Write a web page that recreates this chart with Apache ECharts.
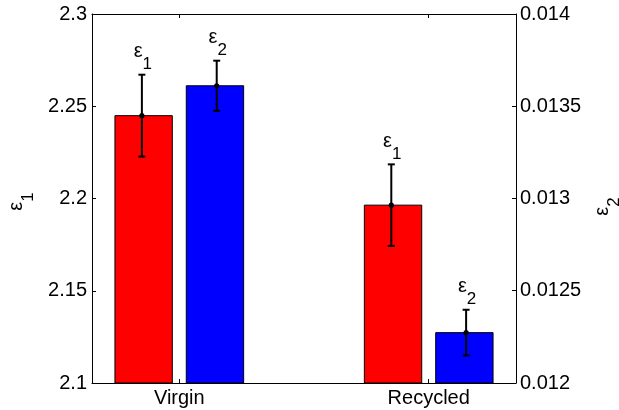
<!DOCTYPE html>
<html>
<head>
<meta charset="utf-8">
<script src="https://cdn.jsdelivr.net/npm/echarts@6/dist/echarts.min.js"></script>
<style>html,body{margin:0;padding:0;background:#fff}#c{width:619px;height:410px}</style>
</head>
<body>
<div id="c"></div>
<script>
// ---- data ----
const categories = ['Virgin', 'Recycled'];
const eps1 = [2.2449, 2.1964];
const eps1Err = [0.0222, 0.0221];
const eps2 = [0.013611, 0.012273];
const eps2Err = [0.000136, 0.000124];
const leftTicks = { min: 2.1, max: 2.3, interval: 0.05 };
const rightTicks = { min: 0.012, max: 0.014, interval: 0.0005 };
const xRange = { min: 0.65, max: 2.35 };
const xTickValues = [1, 2];

// ---- styles ----
const FONT = 'Liberation Sans, Arial, Helvetica, sans-serif';
const BAR_W = 0.23, BAR_OFF = 0.143, ERR_OFF = 0.15;
const RED = '#ff0000', BLUE = '#0000ff';

const richSub = {
  e: { fontSize: 20, fontFamily: FONT, color: '#000' },
  s: { fontSize: 17, fontFamily: FONT, color: '#000', padding: [25, 0, 0, 0] }
};

function barSeries(vals, yIdx, base, off, color) {
  return {
    type: 'custom', yAxisIndex: yIdx, clip: false,
    data: vals.map((v, i) => [i + 1, v]),
    renderItem: function (params, api) {
      const x = api.value(0) + off, y = api.value(1);
      const p0 = api.coord([x - BAR_W / 2, y]);
      const p1 = api.coord([x + BAR_W / 2, base]);
      return {
        type: 'rect',
        shape: { x: p0[0], y: p0[1], width: p1[0] - p0[0], height: p1[1] - p0[1] },
        style: { fill: color, stroke: '#000', lineWidth: 1 }
      };
    }
  };
}

function errSeries(vals, errs, yIdx, off, sub) {
  return {
    type: 'custom', yAxisIndex: yIdx, clip: false, z: 5,
    data: vals.map((v, i) => [i + 1, v, errs[i]]),
    renderItem: function (params, api) {
      const x = api.value(0) + off, y = api.value(1), e = api.value(2);
      const pt = api.coord([x, y + e]);
      const pb = api.coord([x, y - e]);
      const pm = api.coord([x, y]);
      const cw = 3.5;
      const ls = { stroke: '#000', lineWidth: 2 };
      return {
        type: 'group',
        children: [
          { type: 'line', shape: { x1: pt[0], y1: pt[1], x2: pb[0], y2: pb[1] }, style: ls },
          { type: 'line', shape: { x1: pt[0] - cw, y1: pt[1], x2: pt[0] + cw, y2: pt[1] }, style: ls },
          { type: 'line', shape: { x1: pb[0] - cw, y1: pb[1], x2: pb[0] + cw, y2: pb[1] }, style: ls },
          { type: 'circle', shape: { cx: pm[0], cy: pm[1], r: 2.6 }, style: { fill: '#000' } },
          {
            type: 'text', x: pt[0] + 1, y: pt[1] - 2,
            style: { text: '{e|ε}{s|' + sub + '}', rich: richSub, align: 'center', verticalAlign: 'bottom', fill: '#000' }
          }
        ]
      };
    }
  };
}

const axisCommon = {
  axisLine: { show: true, onZero: false, lineStyle: { color: '#000', width: 1 } },
  axisTick: { show: true, inside: true, length: 4, lineStyle: { color: '#000', width: 1 } },
  splitLine: { show: false }
};

const chart = echarts.init(document.getElementById('c'), null, { renderer: 'canvas' });
chart.setOption({
  animation: false,
  backgroundColor: '#fff',
  grid: { left: 92, right: 103, top: 14, bottom: 27, containLabel: false, outerBoundsMode: 'none' },
  xAxis: [
    Object.assign({}, axisCommon, {
      type: 'value', position: 'bottom', min: xRange.min, max: xRange.max,
      axisTick: Object.assign({}, axisCommon.axisTick, { customValues: xTickValues }),
      axisLabel: {
        customValues: xTickValues, margin: 5, color: '#000', fontSize: 20, fontFamily: FONT,
        formatter: v => categories[Math.round(v) - 1] || ''
      }
    }),
    Object.assign({}, axisCommon, {
      type: 'value', position: 'top', min: xRange.min, max: xRange.max,
      axisTick: Object.assign({}, axisCommon.axisTick, { customValues: xTickValues }),
      axisLabel: { show: false }
    })
  ],
  yAxis: [
    Object.assign({}, axisCommon, {
      type: 'value', position: 'left', min: leftTicks.min, max: leftTicks.max, interval: leftTicks.interval,
      axisLabel: { margin: 5, color: '#000', fontSize: 20, fontFamily: FONT },
      name: '{e|ε}{s|1}', nameLocation: 'middle', nameRotate: 90, nameGap: 47,
      nameTextStyle: { rich: richSub, padding: [0, 6, 0, 0] }
    }),
    Object.assign({}, axisCommon, {
      type: 'value', position: 'right', min: rightTicks.min, max: rightTicks.max, interval: rightTicks.interval,
      axisLabel: { margin: 4, color: '#000', fontSize: 20, fontFamily: FONT },
      name: '{e|ε}{s|2}', nameLocation: 'middle', nameRotate: 90, nameGap: 61,
      nameTextStyle: { rich: richSub, padding: [0, 16, 0, 0] }
    })
  ],
  series: [
    barSeries(eps1, 0, leftTicks.min, -BAR_OFF, RED),
    barSeries(eps2, 1, rightTicks.min, BAR_OFF, BLUE),
    errSeries(eps1, eps1Err, 0, -ERR_OFF, '1'),
    errSeries(eps2, eps2Err, 1, ERR_OFF, '2')
  ]
});
</script>
</body>
</html>
